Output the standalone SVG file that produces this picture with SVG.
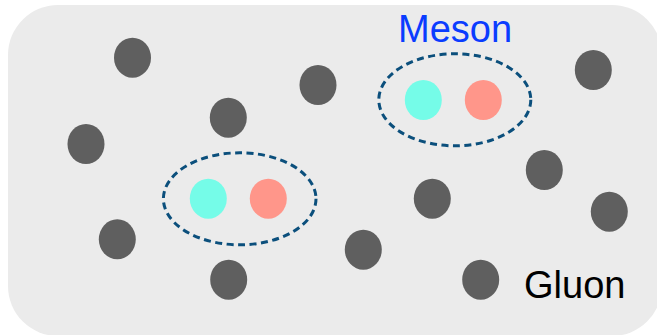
<svg xmlns="http://www.w3.org/2000/svg" width="657" height="335" viewBox="0 0 657 335">
<style>
.g{fill:#5f5f5f}
.q1{fill:#75fce8}
.q2{fill:#ff968a}
.ring{fill:none;stroke:#0b4f7c;stroke-width:3;stroke-dasharray:7 4.5}
.lbl{font-family:"Liberation Sans",Arial,sans-serif;font-size:38px}
</style>
<rect x="8" y="5" width="654" height="331" rx="50" ry="50" fill="#ebebeb"/>
<g id="gluons">
<ellipse id="g1" class="g" cx="132.5" cy="57.7" rx="18.5" ry="20"/>
<ellipse id="g2" class="g" cx="318" cy="85" rx="18.5" ry="20"/>
<ellipse id="g3" class="g" cx="593.3" cy="70" rx="18.5" ry="20"/>
<ellipse id="g4" class="g" cx="86" cy="144" rx="18.5" ry="20"/>
<ellipse id="g5" class="g" cx="228.3" cy="117.7" rx="18.5" ry="20"/>
<ellipse id="g6" class="g" cx="544.3" cy="170" rx="18.5" ry="20"/>
<ellipse id="g7" class="g" cx="432.3" cy="198.7" rx="18.5" ry="20"/>
<ellipse id="g8" class="g" cx="609.3" cy="211.7" rx="18.5" ry="20"/>
<ellipse id="g9" class="g" cx="117.3" cy="239.3" rx="18.5" ry="20"/>
<ellipse id="g10" class="g" cx="363.3" cy="249.7" rx="18.5" ry="20"/>
<ellipse id="g11" class="g" cx="228.7" cy="279.7" rx="18.5" ry="20"/>
<ellipse id="g12" class="g" cx="480.7" cy="279.7" rx="18.5" ry="20"/>
</g>
<g id="meson1">
<ellipse class="ring" cx="454.8" cy="99.8" rx="76" ry="46"/>
<ellipse class="q1" cx="423.3" cy="100" rx="18.5" ry="20"/>
<ellipse class="q2" cx="483.3" cy="100" rx="18.5" ry="20"/>
</g>
<g id="meson2">
<ellipse class="ring" cx="239.7" cy="198.8" rx="76.3" ry="46"/>
<ellipse class="q1" cx="208.3" cy="198.7" rx="18.5" ry="20"/>
<ellipse class="q2" cx="268.3" cy="198.7" rx="18.5" ry="20"/>
</g>
<g id="labels">
<text class="lbl" x="398" y="42" fill="#0a3cff">Meson</text>
<text class="lbl" x="524" y="298" fill="#000">Gluon</text>
</g>
</svg>
